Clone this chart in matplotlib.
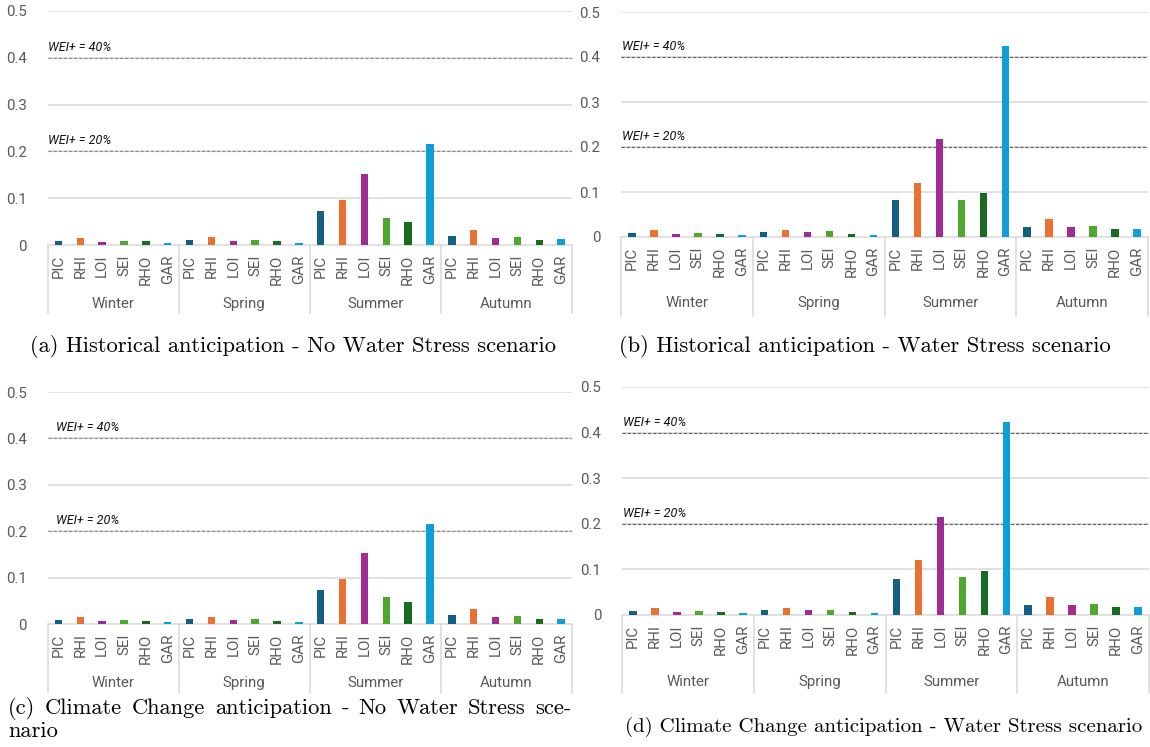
import matplotlib
matplotlib.use("Agg")
import matplotlib.pyplot as plt
from matplotlib.lines import Line2D
import numpy as np

# ---------------- data ----------------
seasons = ["Winter", "Spring", "Summer", "Autumn"]
stations = ["PIC", "RHI", "LOI", "SEI", "RHO", "GAR"]
station_colors = ["#156082", "#E97132", "#A02B93", "#4EA72E", "#196B24", "#0F9ED5"]
y_ticks = [0, 0.1, 0.2, 0.3, 0.4, 0.5]
y_tick_labels = ["0", "0.1", "0.2", "0.3", "0.4", "0.5"]
threshold_values = [0.2, 0.4]
threshold_labels = ["WEI+ = 20%", "WEI+ = 40%"]

# (a) Historical anticipation - No Water Stress
a_winter = [0.009, 0.016, 0.007, 0.009, 0.008, 0.005]
a_spring = [0.011, 0.017, 0.008, 0.011, 0.008, 0.005]
a_summer = [0.073, 0.097, 0.152, 0.058, 0.049, 0.215]
a_autumn = [0.019, 0.033, 0.016, 0.017, 0.011, 0.013]
# (b) Historical anticipation - Water Stress
b_winter = [0.009, 0.015, 0.007, 0.009, 0.006, 0.005]
b_spring = [0.010, 0.016, 0.010, 0.013, 0.006, 0.005]
b_summer = [0.082, 0.121, 0.217, 0.083, 0.098, 0.425]
b_autumn = [0.022, 0.040, 0.023, 0.024, 0.018, 0.018]
# (c) Climate Change anticipation - No Water Stress
c_winter = [0.008, 0.015, 0.006, 0.008, 0.006, 0.004]
c_spring = [0.010, 0.015, 0.008, 0.010, 0.006, 0.004]
c_summer = [0.073, 0.098, 0.153, 0.058, 0.048, 0.216]
c_autumn = [0.019, 0.032, 0.015, 0.017, 0.011, 0.011]
# (d) Climate Change anticipation - Water Stress
d_winter = [0.008, 0.015, 0.006, 0.008, 0.006, 0.004]
d_spring = [0.010, 0.016, 0.010, 0.012, 0.006, 0.004]
d_summer = [0.080, 0.121, 0.216, 0.083, 0.096, 0.424]
d_autumn = [0.021, 0.040, 0.023, 0.024, 0.017, 0.018]

captions = [
    "(a) Historical anticipation - No Water Stress scenario",
    "(b) Historical anticipation - Water Stress scenario",
    "(c) Climate Change anticipation - No Water Stress sce-|nario",
    "(d) Climate Change anticipation - Water Stress scenario",
]

# ---------------- layout (pixels) ----------------
W, H, DPI = 1150, 747, 100
CHART_FONT = ["Roboto", "DejaVu Sans"]
CAP_FONT = "cmr10"
GRAY_TXT = "#595959"
GRID = "#d9d9d9"

panels = [
    dict(vals=[a_winter, a_spring, a_summer, a_autumn], left=47.5, right=572, y0=245, y5=11,
         grp=59, sep=68, wei_dx=0, dash="#8a8a8a", cap=(293, 347, "center", 16.2)),
    dict(vals=[b_winter, b_spring, b_summer, b_autumn], left=621, right=1148, y0=237, y5=12,
         grp=66, sep=79, wei_dx=1, dash="#5f5f5f", cap=(865, 347, "center", 16.2)),
    dict(vals=[c_winter, c_spring, c_summer, c_autumn], left=47.5, right=572, y0=624, y5=392,
         grp=59, sep=69, wei_dx=9, dash="#8a8a8a", cap=(8, 708, "justify", 16.2)),
    dict(vals=[d_winter, d_spring, d_summer, d_autumn], left=622, right=1149, y0=615, y5=387,
         grp=67, sep=78, wei_dx=1, dash="#5f5f5f", cap=(884, 727, "center", 15.0)),
]

fig = plt.figure(figsize=(W / DPI, H / DPI), dpi=DPI)
fig.patch.set_facecolor("white")

n_st = len(stations)
n_cat = len(seasons) * n_st
xpos = np.arange(n_cat)


def fx(px):
    return px / W


def fy(py):
    return 1 - py / H


for i, p in enumerate(panels):
    ax_h = p["y0"] - p["y5"]
    ax = fig.add_axes([fx(p["left"]), fy(p["y0"]), (p["right"] - p["left"]) / W, ax_h / H])
    ax.set_xlim(-0.5, n_cat - 0.5)
    ax.set_ylim(0, 0.5)
    for s in ax.spines.values():
        s.set_visible(False)
    ax.set_xticks([])
    ax.set_yticks(y_ticks)
    ax.set_yticklabels(y_tick_labels, fontsize=10.8, color=GRAY_TXT, family=CHART_FONT)
    ax.tick_params(axis="y", length=0, pad=15)
    # gridlines
    for t in y_ticks[1:]:
        ax.axhline(t, color=GRID, lw=1.1, zorder=0)
    ax.axhline(0, color=GRID, lw=1.1, zorder=1, clip_on=False)

    # bars
    values = [v for season in p["vals"] for v in season]
    colors = station_colors * len(seasons)
    ax.bar(xpos, values, width=0.34, color=colors, zorder=3)

    # thresholds
    for tv, tl in zip(threshold_values, threshold_labels):
        ax.axhline(tv, color=p["dash"], lw=0.8, ls=(0, (3, 1.6)), zorder=2)
        ty = tv + 10.5 / ax_h * 0.5
        ax.text(-0.5 + p["wei_dx"] / ((p["right"] - p["left"]) / n_cat), ty, tl,
                fontsize=9.0, style="italic", color="#111111", family=CHART_FONT,
                ha="left", va="center", zorder=4)

    # category labels (rotated)
    trans = ax.get_xaxis_transform()
    for k in range(n_cat):
        ax.text(xpos[k], -9.5 / ax_h, stations[k % n_st], rotation=90, ha="center", va="top",
                fontsize=10.8, color=GRAY_TXT, family=CHART_FONT, transform=trans, clip_on=False)
    # season labels
    for g, sname in enumerate(seasons):
        cx = g * n_st + (n_st - 1) / 2
        ax.text(cx, -p["grp"] / ax_h, sname, ha="center", va="center", fontsize=10.8,
                color=GRAY_TXT, family=CHART_FONT, transform=trans, clip_on=False)
    # separators
    for g in range(len(seasons) + 1):
        sx = g * n_st - 0.5
        ax.add_line(Line2D([sx, sx], [0, -p["sep"] / ax_h], color=GRID, lw=1.1,
                           transform=trans, clip_on=False))

# captions
fig.canvas.draw()
renderer = fig.canvas.get_renderer()
for i, p in enumerate(panels):
    cx, cy, mode, csize = p["cap"]
    txt = captions[i]
    if mode == "center":
        fig.text(fx(cx), fy(cy), txt, ha="center", va="center", fontsize=csize,
                 family=CAP_FONT, color="black")
    else:
        line1, line2 = txt.split("|")
        words = line1.split(" ")
        objs = []
        widths = []
        for w_ in words:
            t = fig.text(0, 0, w_, ha="left", va="center", fontsize=csize, family=CAP_FONT)
            bb = t.get_window_extent(renderer=renderer)
            widths.append(bb.width)
            objs.append(t)
        x_start, x_end = cx, 572
        gap = (x_end - x_start - sum(widths)) / (len(words) - 1)
        x = x_start
        for t, wdt in zip(objs, widths):
            t.set_position((fx(x), fy(cy)))
            x += wdt + gap
        fig.text(fx(x_start), fy(cy + 23), line2, ha="left", va="center", fontsize=csize,
                 family=CAP_FONT, color="black")

fig.savefig("out.png", dpi=DPI, facecolor="white")
